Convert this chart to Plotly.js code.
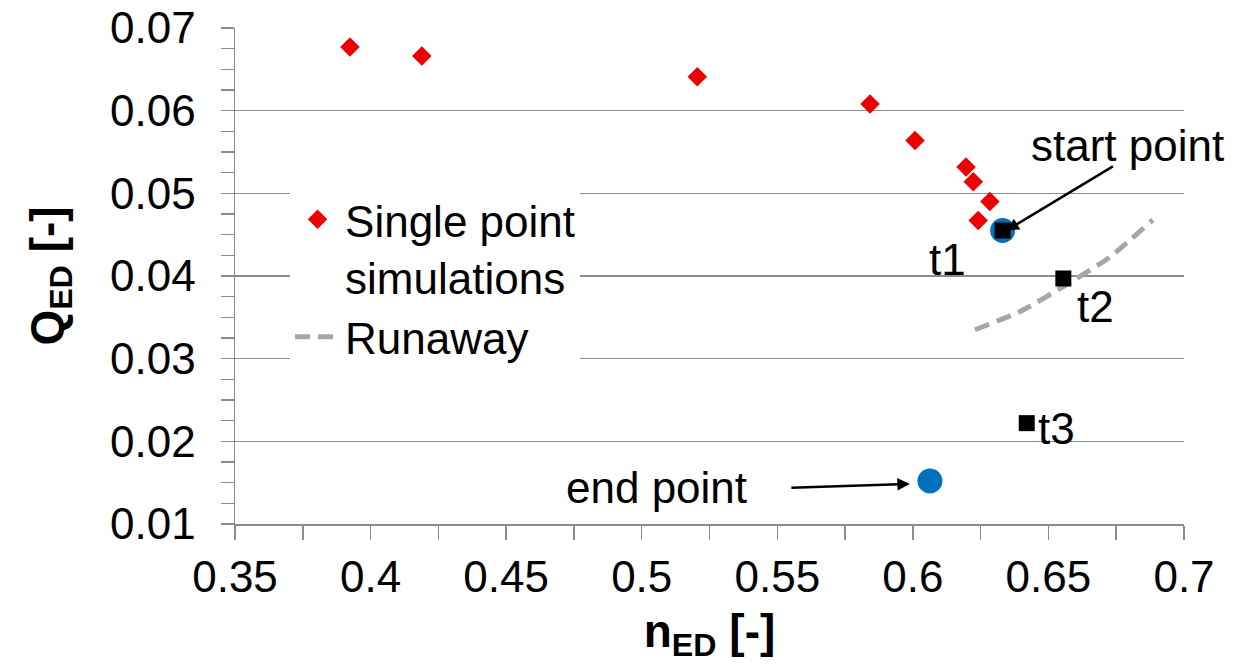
<!DOCTYPE html>
<html>
<head>
<meta charset="utf-8">
<script src="https://cdn.plot.ly/plotly-3.0.1.min.js"></script>
<style>html,body{margin:0;padding:0;background:#fff}#chart{width:1246px;height:666px}</style>
</head>
<body>
<div id="chart"></div>
<script>
// Single point simulations
const simN = [0.3924, 0.4189, 0.5205, 0.5842, 0.6008, 0.6196, 0.6223, 0.6284, 0.6241];
const simQ = [0.0677, 0.0666, 0.0641, 0.0608, 0.0564, 0.0532, 0.0514, 0.0490, 0.0467];
// Runaway curve
const runN = [0.6229, 0.6395, 0.6554, 0.6727, 0.6885];
const runQ = [0.0335, 0.0357, 0.0387, 0.0423, 0.0468];
// Start / end points
const seN = [0.6331, 0.6063];
const seQ = [0.0455, 0.0152];
// Transient points t1..t3
const tN = [0.6331, 0.6555, 0.6420];
const tQ = [0.0455, 0.0397, 0.0222];
const tLabels = ["t1", "t2", "t3"];
const tLabelN = [0.6126, 0.6672, 0.6528];
const tLabelQ = [0.0420, 0.0363, 0.0216];
const xTicks = [0.35, 0.4, 0.45, 0.5, 0.55, 0.6, 0.65, 0.7];
const xTickText = ["0.35", "0.4", "0.45", "0.5", "0.55", "0.6", "0.65", "0.7"];
const yTicks = [0.01, 0.02, 0.03, 0.04, 0.05, 0.06, 0.07];
const yTickText = ["0.01", "0.02", "0.03", "0.04", "0.05", "0.06", "0.07"];

const F = "Liberation Sans, Arial, sans-serif";

const traces = [
  {x: simN, y: simQ, type: "scatter", mode: "markers", name: "Single point<br>simulations",
   marker: {symbol: "diamond", size: 15, color: "#ee0000"}},
  {x: runN, y: runQ, type: "scatter", mode: "lines", name: "Runaway", line: {shape: "spline", smoothing: 0.6, color: "#a6a6a6", width: 5, dash: "15px,8px"}},
  {x: seN, y: seQ, type: "scatter", mode: "markers", showlegend: false,
   marker: {symbol: "circle", size: 25, color: "#0070c0"}},
  {x: tN, y: tQ, type: "scatter", mode: "markers", showlegend: false,
   marker: {symbol: "square", size: 16, color: "#000000"}}
];

const ann = [];
for (let i = 0; i < tLabels.length; i++) {
  ann.push({x: tLabelN[i], y: tLabelQ[i], text: tLabels[i], showarrow: false, font: {family: F, size: 44, color: "#000"}});
}
ann.push({x: 0.6793, y: 0.0558, text: "start point", showarrow: false, font: {family: F, size: 44, color: "#000"}});
ann.push({x: 0.6345, y: 0.0455, text: "", showarrow: true, arrowhead: 2, arrowsize: 1, arrowwidth: 2.5, arrowcolor: "#000", ax: 108, ay: -65, standoff: 0});
ann.push({x: 0.5056, y: 0.0144, text: "end point", showarrow: false, font: {family: F, size: 44, color: "#000"}});
ann.push({x: 0.5989, y: 0.01485, text: "", showarrow: true, arrowhead: 2, arrowsize: 1, arrowwidth: 2.5, arrowcolor: "#000", ax: -120, ay: 4, standoff: 0});

const layout = {
  width: 1246, height: 666,
  margin: {l: 235, r: 62, t: 28, b: 142},
  paper_bgcolor: "#fff", plot_bgcolor: "#fff",
  font: {family: F, color: "#000"},
  showlegend: true,
  legend: {x: 0.058, y: 0.685, xanchor: "left", yanchor: "top", bgcolor: "#fff", itemwidth: 45,
           font: {family: F, size: 44, color: "#000"}, valign: "top", tracegroupgap: 0},
  xaxis: {range: [0.35, 0.7], tickvals: xTicks, ticktext: xTickText, showgrid: false, zeroline: false,
          showline: true, linecolor: "#8c8c8c", linewidth: 1.5, ticks: "outside", ticklen: 14, tickcolor: "#8c8c8c", tickwidth: 1.5,
          minor: {dtick: 0.025, tick0: 0.35, ticks: "outside", ticklen: 14, tickcolor: "#8c8c8c", tickwidth: 1.5, showgrid: false},
          tickfont: {family: F, size: 44, color: "#000"},
          title: {text: "<b>n<sub>ED</sub> [-]</b>", font: {family: F, size: 46, color: "#000"}, standoff: 14}},
  yaxis: {range: [0.01, 0.07], tickvals: yTicks, ticktext: yTickText, showgrid: true, gridcolor: "#8c8c8c", gridwidth: 1.5, zeroline: false,
          showline: true, linecolor: "#8c8c8c", linewidth: 1.5, ticks: "outside", ticklen: 13, tickcolor: "#8c8c8c", tickwidth: 1.5,
          minor: {dtick: 0.0025, tick0: 0.01, ticks: "outside", ticklen: 13, tickcolor: "#8c8c8c", tickwidth: 1.5, showgrid: false},
          tickfont: {family: F, size: 44, color: "#000"}, ticklabelstandoff: 16,
          title: {text: "<b>Q<sub>ED</sub> [-]</b>", font: {family: F, size: 46, color: "#000"}, standoff: 32}},
  annotations: ann
};

Plotly.newPlot("chart", traces, layout, {displayModeBar: false, staticPlot: true});
</script>
</body>
</html>
